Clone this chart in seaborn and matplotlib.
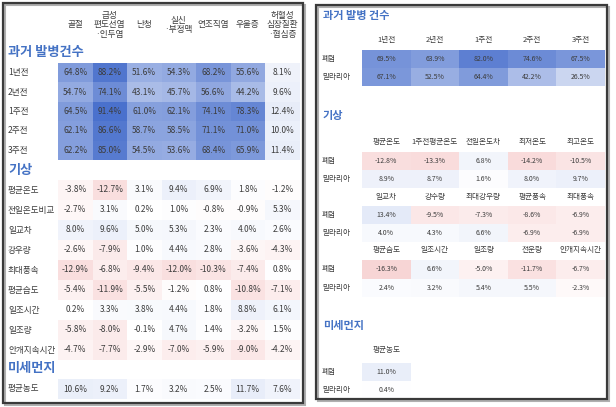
import numpy as np
import pandas as pd
import matplotlib
matplotlib.use("Agg")
from matplotlib import pyplot as plt
from matplotlib.colors import LinearSegmentedColormap
from matplotlib.patches import Rectangle
import seaborn as sns

########## 데이터 (왼쪽 표)
diseases = ['골절', '급성\n편도선염\n·인두염', '난청', '실신\n·부정맥', '연조직염', '우울증', '허혈성\n심장질환\n·협심증']
past_rows = ['1년전', '2년전', '1주전', '2주전', '3주전']
past_vals = [
    [64.8, 88.2, 51.6, 54.3, 68.2, 55.6, 8.1],
    [54.7, 74.1, 43.1, 45.7, 56.6, 44.2, 9.6],
    [64.5, 91.4, 61.0, 62.1, 74.1, 78.3, 12.4],
    [62.1, 86.6, 58.7, 58.5, 71.1, 71.0, 10.0],
    [62.2, 85.0, 54.5, 53.6, 68.4, 65.9, 11.4],
]
weather_rows = ['평균온도', '전일온도비교', '일교차', '강우량', '최대풍속', '평균습도', '일조시간', '일조량', '안개지속시간']
weather_vals = [
    [-3.8, -12.7, 3.1, 9.4, 6.9, 1.8, -1.2],
    [-2.7, 3.1, 0.2, 1.0, -0.8, -0.9, 5.3],
    [8.0, 9.6, 5.0, 5.3, 2.3, 4.0, 2.6],
    [-2.6, -7.9, 1.0, 4.4, 2.8, -3.6, -4.3],
    [-12.9, -6.8, -9.4, -12.0, -10.3, -7.4, 0.8],
    [-5.4, -11.9, -5.5, -1.2, 0.8, -10.8, -7.1],
    [0.2, 3.3, 3.8, 4.4, 1.8, 8.8, 6.1],
    [-5.8, -8.0, -0.1, 4.7, 1.4, -3.2, 1.5],
    [-4.7, -7.7, -2.9, -7.0, -5.9, -9.0, -4.2],
]
dust_rows = ['평균농도']
dust_vals = [[10.6, 9.2, 1.7, 3.2, 2.5, 11.7, 7.6]]

########## 데이터 (오른쪽 표)
r_rows = ['폐렴', '말라리아']
r_past_cols = ['1년전', '2년전', '1주전', '2주전', '3주전']
r_past_vals = [[69.5, 63.9, 82.0, 74.6, 67.5],
               [67.1, 52.5, 64.4, 42.2, 26.5]]
r_w1_cols = ['평균온도', '1주전평균온도', '전일온도차', '최저온도', '최고온도']
r_w1_vals = [[-12.8, -13.3, 6.8, -14.2, -10.5],
             [8.9, 8.7, 1.6, 8.0, 9.7]]
r_w2_cols = ['일교차', '강수량', '최대강우량', '평균풍속', '최대풍속']
r_w2_vals = [[13.4, -9.5, -7.3, -8.6, -6.9],
             [4.0, 4.3, 6.6, -6.9, -6.9]]
r_w3_cols = ['평균습도', '일조시간', '일조량', '전운량', '안개지속시간']
r_w3_vals = [[-16.3, 6.6, -5.0, -11.7, -6.7],
             [2.4, 3.2, 5.4, 5.5, -2.3]]
r_dust_cols = ['평균농도']
r_dust_vals = [[11.0], [0.4]]

sns.set_style('white')
plt.rcParams['font.family'] = ['Noto Sans CJK KR', 'DejaVu Sans']

W, H = 616, 407
fig = plt.figure(figsize=(W / 100, H / 100), dpi=100)

VMIN, VMAX = -50, 100
cmap = LinearSegmentedColormap.from_list(
    'rb', [(0, '#e87f7f'), (-VMIN / (VMAX - VMIN), '#ffffff'), (1, '#3a64c8')])
TXT = '#3c3c3c'
BLUE = '#4472c4'


def rect(x0, y0, x1, y1):
    return [x0 / W, 1 - y1 / H, (x1 - x0) / W, (y1 - y0) / H]


def block(vals, rows, cols, box, fs, lab_x, col_cy=None, col_fs=6, show_cols=True):
    ax = fig.add_axes(rect(*box))
    df = pd.DataFrame(vals, index=rows, columns=cols)
    annot = df.map(lambda v: f"{v:.1f}%")
    sns.heatmap(df, ax=ax, cmap=cmap, vmin=VMIN, vmax=VMAX, annot=annot, fmt='',
                cbar=False, linewidths=0, xticklabels=True, yticklabels=True,
                annot_kws={'fontsize': fs, 'color': TXT})
    # 행 라벨 (왼쪽 정렬)
    ax.set_yticklabels(rows, rotation=0, fontsize=col_fs, color=TXT)
    for lbl in ax.get_yticklabels():
        lbl.set_ha('left')
    ax.tick_params(axis='y', length=0, pad=(box[0] - lab_x) * 0.72)
    ax.set_ylabel('')
    ax.set_xlabel('')
    if show_cols:
        ax.xaxis.tick_top()
        ax.set_xticklabels(cols, rotation=0, fontsize=col_fs, color=TXT,
                           linespacing=1.05)
        for lbl in ax.get_xticklabels():
            lbl.set_va('center')
        ax.tick_params(axis='x', length=0, pad=(box[1] - col_cy) * 0.72)
    else:
        ax.set_xticks([])
    return ax


# 테두리
for (x0, y0, x1, y1) in [(3, 3, 303, 403), (316, 5, 607, 399)]:
    fig.patches.append(Rectangle((x0 / W + 1.5 / W, 1 - (y1 + 1.5) / H), (x1 - x0) / W, (y1 - y0) / H,
                                 transform=fig.transFigure, fill=False, ec='#b0b0b0', lw=1.5))
    fig.patches.append(Rectangle((x0 / W, 1 - y1 / H), (x1 - x0) / W, (y1 - y0) / H,
                                 transform=fig.transFigure, fill=False, ec='#3a3a3a', lw=1.6))

########## 왼쪽
block(past_vals, past_rows, diseases, (58, 63, 299.5, 160), 6, 8, col_cy=25, col_fs=6.2)
block(weather_vals, weather_rows, diseases, (58, 180, 299.5, 360), 6, 8, show_cols=False, col_fs=6.2)
block(dust_vals, dust_rows, diseases, (58, 379, 299.5, 399), 6, 8, show_cols=False, col_fs=6.2)
fig.text(8 / W, 1 - 52 / H, '과거 발병건수', color=BLUE, fontsize=9.5, fontweight='bold', va='center')
fig.text(8 / W, 1 - 170 / H, '기상', color=BLUE, fontsize=9.5, fontweight='bold', va='center')
fig.text(8 / W, 1 - 368 / H, '미세먼지', color=BLUE, fontsize=9.5, fontweight='bold', va='center')

########## 오른쪽
block(r_past_vals, r_rows, r_past_cols, (362, 50, 605, 86), 5, 322, col_cy=40, col_fs=5.5)
block(r_w1_vals, r_rows, r_w1_cols, (362, 152, 605, 188), 5, 322, col_cy=142, col_fs=5.5)
block(r_w2_vals, r_rows, r_w2_cols, (362, 206, 605, 242), 5, 322, col_cy=197, col_fs=5.5)
block(r_w3_vals, r_rows, r_w3_cols, (362, 260, 605, 297), 5, 322, col_cy=250, col_fs=5.5)
block(r_dust_vals, r_rows, r_dust_cols, (362, 363, 410.6, 399), 5, 322, col_cy=350, col_fs=5.5)
fig.text(323 / W, 1 - 15 / H, '과거 발병 건수', color=BLUE, fontsize=8, fontweight='bold', va='center')
fig.text(323 / W, 1 - 115 / H, '기상', color=BLUE, fontsize=8, fontweight='bold', va='center')
fig.text(323 / W, 1 - 325 / H, '미세먼지', color=BLUE, fontsize=8, fontweight='bold', va='center')

fig.savefig('out.png', dpi=100)
